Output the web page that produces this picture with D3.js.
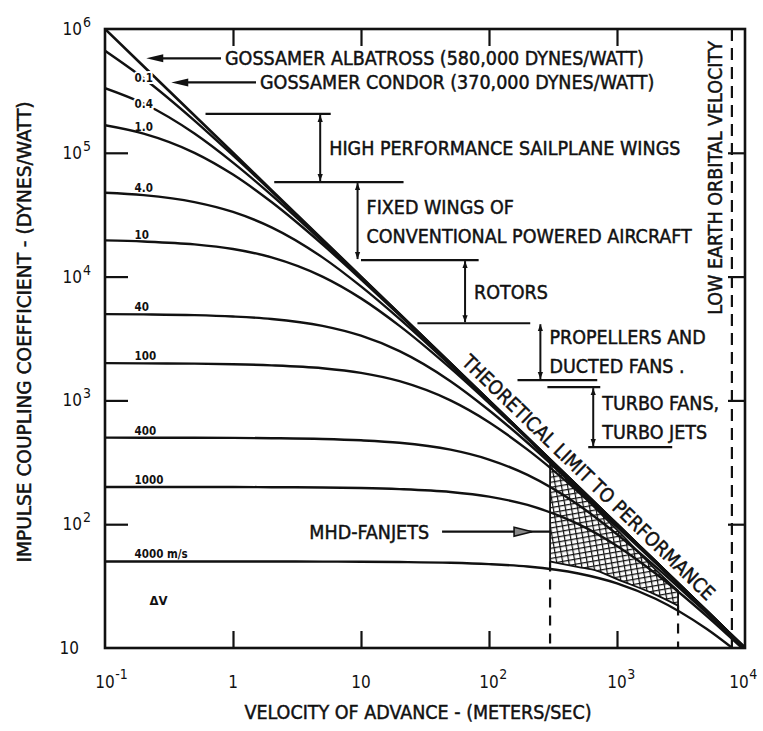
<!DOCTYPE html>
<html><head><meta charset="utf-8">
<script src="https://cdn.jsdelivr.net/npm/d3@7/dist/d3.min.js"></script>
<style>
body{margin:0;background:#fff;}
svg{display:block;background:#fff;}
text{font-family:"DejaVu Sans Condensed","DejaVu Sans",sans-serif;fill:#111;}
</style></head><body>
<svg id="chart" width="763" height="731"></svg>
<script>
// ---------------- DATA ----------------
const velocity = [0.1,0.2,0.5,1,2,5,10,20,50,100,200,500,1000,2000,5000,10000];
const limitC   = [1000000,500000,200000,100000,50000,20000,10000,5000,2000,1000,500,200,100,50,20,10];
const dvLabels = ["0.1","0.4","1.0","4.0","10","40","100","400","1000","4000 m/s"];
const cDv01   = [667000,400000,182000,95200,48800,19800,9950,4990,2000,1000,500,200,100,50,20,10];
const cDv04   = [333000,250000,143000,83300,45500,19200,9800,4950,1990,998,500,200,100,50,20,10];
const cDv1    = [167000,143000,100000,66700,40000,18200,9520,4880,1980,995,499,200,100,50,20,10];
const cDv4    = [47600,45500,40000,33300,25000,14300,8330,4550,1920,980,495,199,99.8,50,20,10];
const cDv10   = [19600,19200,18200,16700,14300,10000,6670,4000,1820,952,488,198,99.5,49.9,20,10];
const cDv40   = [4980,4950,4880,4760,4550,4000,3330,2500,1430,833,455,192,98,49.5,19.9,10];
const cDv100  = [2000,1990,1980,1960,1920,1820,1670,1430,1000,667,400,182,95,48.8,19.8,9.95];
const cDv400  = [500,499,499,498,495,488,476,455,400,333,250,143,83,45.5,19.2,9.8];
const cDv1000 = [200,200,200,200,199,198,196,192,182,167,143,100,66.7,40,18.2,9.5];
const cDv4000 = [50,50,50,50,50,49.9,49.8,49.5,48.8,47.6,45.5,40,33.3,25,14.3,8.3];

const xTicks = [0.1,1,10,100,1000,10000];
const xTickBase = ["10","1","10","10","10","10"];
const xTickExp  = ["-1","","","2","3","4"];
const yTicks = [10,100,1000,10000,100000,1000000];
const yTickBase = ["10","10","10","10","10","10"];
const yTickExp  = ["","2","3","4","5","6"];

const gossamerNames = ["GOSSAMER ALBATROSS (580,000 DYNES/WATT)","GOSSAMER CONDOR (370,000 DYNES/WATT)"];
const gossamerC = [580000,370000];

const techLabels = [["HIGH PERFORMANCE SAILPLANE WINGS"],["FIXED WINGS OF","CONVENTIONAL POWERED AIRCRAFT"],["ROTORS"],["PROPELLERS AND","DUCTED FANS ."],["TURBO FANS,","TURBO JETS"]];
const techTopC    = [206000,58000,13600,4200,1280];
const techBottomC = [58000,13600,4200,1460,420];
const techBarV    = [4.8,9.4,65,252,652];

const ruleC     = [206000,58000,13600,4200,1460,1280,420];
const ruleFromV = [0.61,2.1,10,27.6,167,286,596];
const ruleToV   = [5.8,21.5,83,210,701,740,2700];

const mhdV     = [300,500,700,1000,2000,3000];
const mhdUpper = [310,186,130,90,43,29];
const mhdLower = [50,45,42,36,27,22];
const mhdLabel = "MHD-FANJETS";
const mhdArrowC = 87;

const leoVelocity = 7900;
const leoLabel = "LOW EARTH ORBITAL VELOCITY";
const limitLabel = "THEORETICAL LIMIT TO PERFORMANCE";
const xTitle = "VELOCITY OF ADVANCE - (METERS/SEC)";
const yTitle = "IMPULSE COUPLING COEFFICIENT - (DYNES/WATT)";

// ---------------- DRAW ----------------
const svg = d3.select("#chart");
const m = {left:105, right:745, top:29, bottom:648};
const x = d3.scaleLog().domain([0.1,10000]).range([m.left,m.right]);
const y = d3.scaleLog().domain([10,1000000]).range([m.bottom,m.top]);
const ink = "#111";

const defs = svg.append("defs");
defs.append("clipPath").attr("id","plot").append("rect")
  .attr("x",m.left).attr("y",m.top).attr("width",m.right-m.left).attr("height",m.bottom-m.top);
const pat = defs.append("pattern").attr("id","hatch").attr("patternUnits","userSpaceOnUse")
  .attr("width",6).attr("height",5).attr("patternTransform","rotate(-10)");
pat.append("rect").attr("width",6).attr("height",5).attr("fill","#fff");
pat.append("path").attr("d","M0,0.6H6M0.6,0V5").attr("stroke",ink).attr("stroke-width",1.2);
defs.append("marker").attr("id","tri").attr("viewBox","0 0 8 8").attr("refX",8).attr("refY",4)
  .attr("markerWidth",7).attr("markerHeight",7).attr("markerUnits","userSpaceOnUse")
  .attr("orient","auto-start-reverse")
  .append("path").attr("d","M0,1L8,4L0,7Z").attr("fill",ink);

const plot = svg.append("g").attr("clip-path","url(#plot)");

// MHD hatched region
const mhdArea = d3.area().x((d,i)=>x(mhdV[i])).y0((d,i)=>y(mhdLower[i])).y1((d,i)=>y(mhdUpper[i])).curve(d3.curveMonotoneX);
plot.append("path").datum(mhdV).attr("d",mhdArea).attr("fill","url(#hatch)").attr("stroke",ink).attr("stroke-width",1.8);

// dashed verticals at the MHD range edges
[0, mhdV.length-1].forEach(i=>{
  plot.append("line").attr("x1",x(mhdV[i])).attr("x2",x(mhdV[i]))
    .attr("y1",y(mhdLower[i])).attr("y2",m.bottom)
    .attr("stroke",ink).attr("stroke-width",2.2).attr("stroke-dasharray","10,8");
});
// LEO dashed vertical
plot.append("line").attr("x1",x(leoVelocity)).attr("x2",x(leoVelocity))
  .attr("y1",m.top).attr("y2",m.bottom).attr("stroke",ink).attr("stroke-width",2.2).attr("stroke-dasharray","12,7");

// curves
const series = [cDv01,cDv04,cDv1,cDv4,cDv10,cDv40,cDv100,cDv400,cDv1000,cDv4000];
const curve = d3.line().x((d,i)=>x(velocity[i])).y(d=>y(d)).curve(d3.curveMonotoneX);
plot.selectAll("path.dv").data(series).join("path").attr("class","dv")
  .attr("d",curve).attr("fill","none").attr("stroke",ink).attr("stroke-width",2.4);
// theoretical limit
const lim = d3.line().x((d,i)=>x(velocity[i])).y(d=>y(d));
plot.append("path").datum(limitC).attr("d",lim).attr("fill","none").attr("stroke",ink).attr("stroke-width",2.6);

// frame
svg.append("rect").attr("x",m.left).attr("y",m.top).attr("width",m.right-m.left).attr("height",m.bottom-m.top)
  .attr("fill","none").attr("stroke",ink).attr("stroke-width",2.6);

// ticks via axes
function styleAxis(g){ g.select(".domain").remove(); g.selectAll("line").attr("stroke",ink).attr("stroke-width",2.2); g.selectAll("text").remove(); }
const inner = [1,10,100,1000];
svg.append("g").attr("transform",`translate(0,${m.bottom})`).call(d3.axisBottom(x).tickValues(inner).tickSize(-17).tickFormat("")).call(styleAxis);
svg.append("g").attr("transform",`translate(0,${m.top})`).call(d3.axisTop(x).tickValues(inner).tickSize(-17).tickFormat("")).call(styleAxis);
const innerY = [100,1000,10000,100000];
svg.append("g").attr("transform",`translate(${m.left},0)`).call(d3.axisLeft(y).tickValues(innerY).tickSize(-23).tickFormat("")).call(styleAxis);
svg.append("g").attr("transform",`translate(${m.right},0)`).call(d3.axisRight(y).tickValues(innerY).tickSize(-17).tickFormat("")).call(styleAxis);

// tick labels
xTicks.forEach((t,i)=>{
  const cx = x(t) - (i===xTicks.length-1 ? 6 : 0);
  const b = svg.append("text").attr("x",cx).attr("y",m.bottom+40).attr("text-anchor","middle")
    .attr("font-size",17).text(xTickBase[i]);
  if (xTickExp[i]) {
    const w = b.node().getComputedTextLength();
    svg.append("text").attr("x",cx+w/2+0.5).attr("y",m.bottom+31).attr("font-size",14).text(xTickExp[i]);
  }
});
yTicks.forEach((t,i)=>{
  const yy = y(t);
  const ex = yTickExp[i];
  svg.append("text").attr("x",m.left-(ex?23:26)).attr("y",yy+6).attr("text-anchor","end")
    .attr("font-size",17).text(yTickBase[i]);
  if (ex) svg.append("text").attr("x",m.left-22).attr("y",yy-2).attr("font-size",14).text(ex);
});

// curve labels
const labelV = velocity[1];
series.forEach((s,i)=>{
  const lx = x(labelV) - 9;
  const onCurve = i < 2;
  const ly = onCurve ? y(s[1]) + 4 : y(s[1]) - 3;
  const t = svg.append("text").attr("x",lx).attr("y",ly).attr("font-size",11.5).attr("font-weight","bold").text(dvLabels[i]);
  if (onCurve) t.attr("stroke","#fff").attr("stroke-width",4).attr("paint-order","stroke");
});
svg.append("text").attr("x",x(labelV)+6).attr("y",y(cDv4000[0])+44).attr("font-size",13).attr("font-weight","bold").text("\u0394V");

// annotation text style
const ann = sel => sel.attr("font-size",19.5).attr("stroke",ink).attr("stroke-width",0.45);

// gossamer arrows
function limitVAt(c){ // locate velocity on the limit series for a given coefficient
  for (let i=0;i<limitC.length-1;i++){
    if (c<=limitC[i] && c>=limitC[i+1]){
      const f=(Math.log(c)-Math.log(limitC[i]))/(Math.log(limitC[i+1])-Math.log(limitC[i]));
      return Math.exp(Math.log(velocity[i])+f*(Math.log(velocity[i+1])-Math.log(velocity[i])));
    }
  }
  return velocity[0];
}
const gossTextX = [x(1)-8, x(1)+27];
gossamerC.forEach((c,i)=>{
  const yy = y(c);
  const tip = x(limitVAt(c)) + 11;
  svg.append("line").attr("x1",tip+8).attr("x2",gossTextX[i]-4).attr("y1",yy).attr("y2",yy).attr("stroke",ink).attr("stroke-width",2.2);
  svg.append("path").attr("d",`M${tip},${yy}L${tip+17},${yy-4}L${tip+17},${yy+4}Z`).attr("fill",ink);
  ann(svg.append("text").attr("x",gossTextX[i]).attr("y",yy+7)).text(gossamerNames[i]);
});

// technology brackets
ruleC.forEach((c,i)=>{
  svg.append("line").attr("x1",x(ruleFromV[i])).attr("x2",x(ruleToV[i])).attr("y1",y(c)).attr("y2",y(c))
    .attr("stroke",ink).attr("stroke-width",2.2);
});
techLabels.forEach((lines,i)=>{
  const bx = x(techBarV[i]);
  const y1 = y(techTopC[i]), y2 = y(techBottomC[i]);
  svg.append("line").attr("x1",bx).attr("x2",bx).attr("y1",y1+1).attr("y2",y2-1)
    .attr("stroke",ink).attr("stroke-width",2).attr("marker-start","url(#tri)").attr("marker-end","url(#tri)");
  const mid = (y1+y2)/2;
  lines.forEach((ln,j)=>{
    ann(svg.append("text").attr("x",bx+9).attr("y",mid+(j-(lines.length-1)/2)*29+7)).text(ln);
  });
});

// MHD arrow + label
{
  const yy = y(mhdArrowC);
  const tipX = x(mhdV[0]);
  svg.append("line").attr("x1",tipX-108).attr("x2",tipX).attr("y1",yy).attr("y2",yy).attr("stroke",ink).attr("stroke-width",2.2);
  svg.append("path").attr("d",`M${tipX-18},${yy}L${tipX-36},${yy-4.5}L${tipX-36},${yy+4.5}Z`)
    .attr("fill","#888").attr("stroke",ink).attr("stroke-width",1.6);
  ann(svg.append("text").attr("x",tipX-121).attr("y",yy+7).attr("text-anchor","end")).text(mhdLabel);
}

// LEO label
ann(svg.append("text").attr("transform",`translate(${x(leoVelocity)-17},178) rotate(-90)`)
  .attr("text-anchor","middle").attr("dy","0.36em")).text(leoLabel);

// theoretical limit label along the line
{
  const p0=[x(velocity[0]),y(limitC[0])], p1=[x(velocity[velocity.length-1]),y(limitC[limitC.length-1])];
  const th = Math.atan2(p1[1]-p0[1], p1[0]-p0[0]);
  const v0 = 55;
  const bx = x(v0), by = y(limitC[0]*velocity[0]/v0);
  const off = 7;
  const px = bx + Math.sin(th)*off, py = by - Math.cos(th)*off;
  ann(svg.append("text").attr("transform",`translate(${px},${py}) rotate(${th*180/Math.PI})`).attr("font-size",20)).text(limitLabel);
}

// axis titles
ann(svg.append("text").attr("x",(m.left+m.right)/2-7).attr("y",719).attr("text-anchor","middle")).text(xTitle);
ann(svg.append("text").attr("transform","translate(24,332) rotate(-90)").attr("text-anchor","middle").attr("dy","0.36em")
  .attr("font-size",23).attr("textLength",461).attr("lengthAdjust","spacingAndGlyphs")).text(yTitle);
</script>
</body></html>
